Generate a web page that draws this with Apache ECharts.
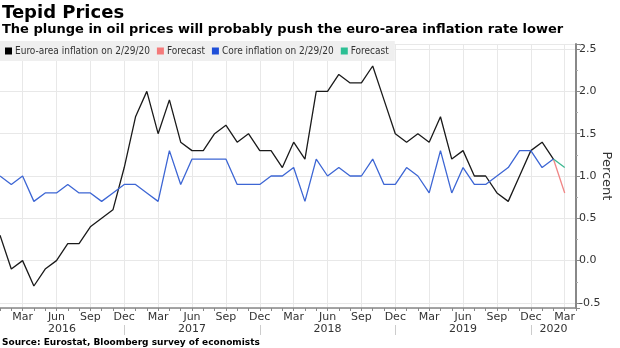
<!DOCTYPE html>
<html><head><meta charset="utf-8">
<script src="https://cdn.jsdelivr.net/npm/echarts@6/dist/echarts.min.js"></script>
<style>html,body{margin:0;padding:0;background:#fff}#c{width:620px;height:348px}</style>
</head><body><div id="c"></div>
<script>
const months = [
  'Jan 2016','Feb 2016','Mar 2016','Apr 2016','May 2016','Jun 2016','Jul 2016','Aug 2016','Sep 2016','Oct 2016','Nov 2016','Dec 2016',
  'Jan 2017','Feb 2017','Mar 2017','Apr 2017','May 2017','Jun 2017','Jul 2017','Aug 2017','Sep 2017','Oct 2017','Nov 2017','Dec 2017',
  'Jan 2018','Feb 2018','Mar 2018','Apr 2018','May 2018','Jun 2018','Jul 2018','Aug 2018','Sep 2018','Oct 2018','Nov 2018','Dec 2018',
  'Jan 2019','Feb 2019','Mar 2019','Apr 2019','May 2019','Jun 2019','Jul 2019','Aug 2019','Sep 2019','Oct 2019','Nov 2019','Dec 2019',
  'Jan 2020','Feb 2020','Mar 2020','Apr 2020'
];
const euroInflation = [
  0.3,-0.1,0.0,-0.3,-0.1,0.0,0.2,0.2,0.4,0.5,0.6,1.1,
  1.7,2.0,1.5,1.9,1.4,1.3,1.3,1.5,1.6,1.4,1.5,1.3,
  1.3,1.1,1.4,1.2,2.0,2.0,2.2,2.1,2.1,2.3,1.9,1.5,
  1.4,1.5,1.4,1.7,1.2,1.3,1.0,1.0,0.8,0.7,1.0,1.3,
  1.4,1.2
];
const euroForecastMonths = ['Feb 2020','Mar 2020'];
const euroForecast = [1.2, 0.8];
const coreInflation = [
  1.0,0.9,1.0,0.7,0.8,0.8,0.9,0.8,0.8,0.7,0.8,0.9,
  0.9,0.8,0.7,1.3,0.9,1.2,1.2,1.2,1.2,0.9,0.9,0.9,
  1.0,1.0,1.1,0.7,1.2,1.0,1.1,1.0,1.0,1.2,0.9,0.9,
  1.1,1.0,0.8,1.3,0.8,1.1,0.9,0.9,1.0,1.1,1.3,1.3,
  1.1,1.2
];
const coreForecastMonths = ['Feb 2020','Mar 2020'];
const coreForecast = [1.2, 1.1];
const quarterMonths = ['Mar','Jun','Sep','Dec'];
const years = ['2016','2017','2018','2019','2020'];

function pad(vals){ const out = months.map(()=>null); vals.forEach((v,i)=>{out[i]=v;}); return out; }
function padAt(ms, vals){ const out = months.map(()=>null); ms.forEach((m,i)=>{out[months.indexOf(m)] = vals[i];}); return out; }
const isQuarter = i => quarterMonths.indexOf(months[i].slice(0,3)) >= 0;
const isDec = i => months[i].slice(0,3) === 'Dec';
const yearPos = {};
years.forEach(y => {
  const first = months.findIndex(m => m.endsWith(y));
  let last = -1; months.forEach((m,i)=>{ if (m.endsWith(y)) last = i; });
  const decIdx = months.indexOf('Dec ' + y);
  const a = Math.max(0, first - 1);
  const b = decIdx >= 0 ? decIdx : last;
  yearPos[((a + b) / 2).toFixed(1)] = y;
});

const FONT = 'DejaVu Sans';
const NARROW = 'DejaVu Sans Condensed';
const chart = echarts.init(document.getElementById('c'), null, {renderer:'canvas'});
chart.setOption({
  animation: false,
  backgroundColor: '#fff',
  textStyle: {fontFamily: FONT},
  title: [
    {text:'Tepid Prices', left:2, top:4, padding:0, textStyle:{fontSize:18, fontWeight:'bold', color:'#000', fontFamily:FONT}},
    {text:'The plunge in oil prices will probably push the euro-area inflation rate lower', left:2, top:23, padding:0, textStyle:{fontSize:13, fontWeight:'bold', color:'#000', fontFamily:FONT}},
    {text:'Source: Eurostat, Bloomberg survey of economists', left:2, top:338, padding:0, textStyle:{fontSize:9, fontWeight:'bold', color:'#000', fontFamily:FONT}}
  ],
  legend: {
    left: 0, top: 41, padding:[5,6,5,5], backgroundColor:'#efefef',
    itemWidth:7, itemHeight:7, itemGap:7, icon:'rect',
    textStyle:{fontSize:10, color:'#333', fontFamily:NARROW, padding:[0,0,0,-2]},
    formatter: n => n.trim(),
    data: [
      {name:'Euro-area inflation on 2/29/20', itemStyle:{color:'#000'}},
      {name:'Forecast', itemStyle:{color:'#f47a7a'}},
      {name:'Core inflation on 2/29/20', itemStyle:{color:'#1f4fd8'}},
      {name:'Forecast ', itemStyle:{color:'#2cbf94'}}
    ]
  },
  grid: {left:0, right:44, top:44, bottom:40, containLabel:false, outerBoundsMode:'none'},
  xAxis: [
    {type:'category', data:months, boundaryGap:false, position:'bottom',
     axisLine:{onZero:false, lineStyle:{color:'#888', width:1.5}},
     axisTick:{show:true, interval:0, length:3, lineStyle:{color:'#888'}},
     axisLabel:{interval:(i)=>isQuarter(i), formatter:v=>v.slice(0,3), margin:4, fontSize:11, color:'#333', fontFamily:FONT},
     splitLine:{show:true, interval:(i)=>isQuarter(i), lineStyle:{color:'#e8e8e8'}}},
    {type:'category', data:months, boundaryGap:false, position:'bottom', offset:17,
     axisLine:{show:false, onZero:false},
     axisTick:{show:true, interval:(i)=>isDec(i), length:10, lineStyle:{color:'#ccc'}},
     axisLabel:{show:false}, splitLine:{show:false}},
    {type:'value', min:0, max:months.length-1, interval:0.5, position:'bottom', offset:12,
     axisLine:{show:false, onZero:false}, axisTick:{show:false}, splitLine:{show:false},
     axisLabel:{margin:4, fontSize:11, color:'#333', fontFamily:FONT, showMinLabel:true, showMaxLabel:true,
       formatter: v => yearPos[v.toFixed(1)] || ''}}
  ],
  yAxis: {
    type:'value', position:'right', min:-0.56, max:2.56, splitNumber:6,
    axisLine:{show:true, onZero:false, lineStyle:{color:'#888', width:2}},
    axisTick:{show:true, length:4, lineStyle:{color:'#888'}},
    minorTick:{show:true, splitNumber:2, length:2, lineStyle:{color:'#aaa'}},
    axisLabel:{showMinLabel:false, showMaxLabel:false, formatter:v=>v.toFixed(1), fontSize:11, color:'#333', margin:3, fontFamily:FONT},
    splitLine:{show:true, lineStyle:{color:'#e8e8e8'}},
    name:'Percent', nameLocation:'middle', nameRotate:-90, nameGap:24, nameMoveOverlap:false,
    nameTextStyle:{fontSize:13, color:'#333', fontFamily:FONT}
  },
  series: [
    {name:'Euro-area inflation on 2/29/20', type:'line', data:pad(euroInflation), showSymbol:false, symbol:'none', lineStyle:{color:'#1a1a1a', width:1.3}, itemStyle:{color:'#000'}, z:3},
    {name:'Forecast', type:'line', data:padAt(euroForecastMonths, euroForecast), showSymbol:false, symbol:'none', lineStyle:{color:'#f08585', width:1.3}, itemStyle:{color:'#f47a7a'}, z:2},
    {name:'Core inflation on 2/29/20', type:'line', data:pad(coreInflation), showSymbol:false, symbol:'none', lineStyle:{color:'#3d66d4', width:1.3}, itemStyle:{color:'#1f4fd8'}, z:4},
    {name:'Forecast ', type:'line', data:padAt(coreForecastMonths, coreForecast), showSymbol:false, symbol:'none', lineStyle:{color:'#3cb890', width:1.3}, itemStyle:{color:'#2cbf94'}, z:2}
  ]
});
</script></body></html>
